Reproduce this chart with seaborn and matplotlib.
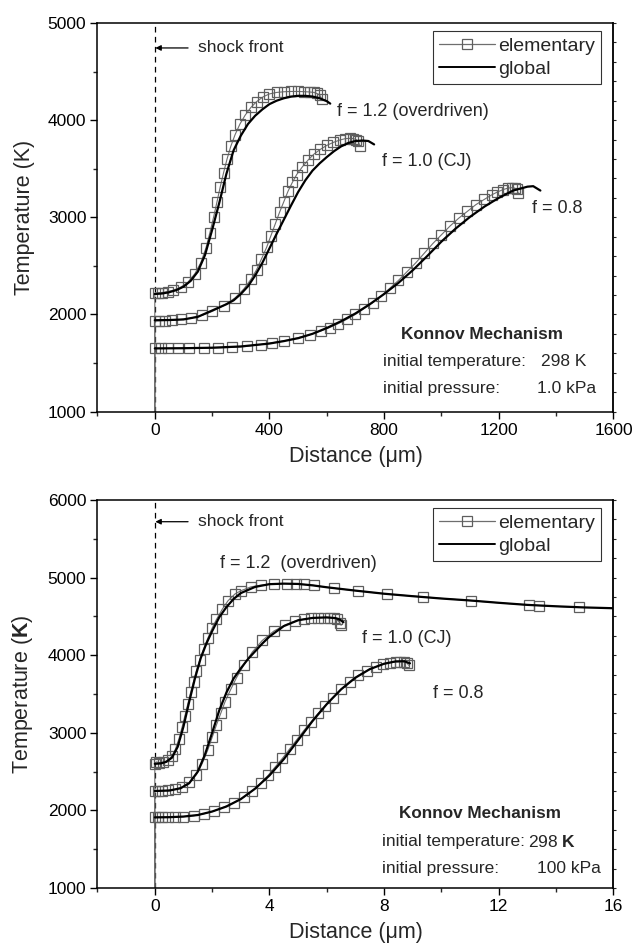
import matplotlib
matplotlib.use("Agg")
import matplotlib.pyplot as plt
from matplotlib.lines import Line2D
from matplotlib.ticker import MultipleLocator, NullFormatter
import seaborn as sns
import pandas as pd

sns.set_style("ticks")
plt.rcParams['font.family'] = ['Liberation Sans', 'DejaVu Sans']
plt.rcParams['mathtext.fontset'] = 'custom'
plt.rcParams['mathtext.rm'] = 'Liberation Sans'
plt.rcParams['mathtext.bf'] = 'Liberation Sans:bold'

# ---------------- Top panel (1.0 kPa), x in micrometres ----------------
top_g12_x = [0, 25, 50, 75, 100, 125, 150, 175, 200, 225, 250, 275, 300, 325, 350, 375, 400, 425, 450, 475, 500, 525, 550, 575, 600, 612]
top_g12_T = [2210, 2215, 2228, 2250, 2285, 2345, 2440, 2610, 2870, 3150, 3450, 3690, 3840, 3960, 4045, 4110, 4165, 4200, 4225, 4242, 4250, 4250, 4243, 4225, 4195, 4170]
top_e12_x = [0, 0, 10, 25, 45, 65, 90, 115, 140, 160, 178, 192, 205, 217, 228, 240, 252, 265, 280, 297, 315, 335, 355, 378, 400, 425, 450, 475, 500, 520, 540, 555, 565, 575, 582]
top_e12_T = [298, 2220, 2222, 2225, 2235, 2250, 2280, 2330, 2420, 2530, 2680, 2840, 3000, 3160, 3310, 3460, 3600, 3730, 3850, 3960, 4050, 4130, 4190, 4240, 4270, 4285, 4292, 4295, 4295, 4293, 4290, 4285, 4275, 4260, 4220]

top_g10_x = [0, 50, 100, 150, 200, 250, 275, 300, 325, 350, 375, 400, 425, 450, 475, 500, 525, 550, 575, 600, 625, 650, 675, 700, 725, 745, 765]
top_g10_T = [1940, 1942, 1948, 1975, 2040, 2105, 2145, 2210, 2290, 2400, 2530, 2680, 2830, 2975, 3120, 3260, 3380, 3480, 3555, 3620, 3680, 3730, 3765, 3785, 3790, 3785, 3750]
top_e10_x = [0, 0, 15, 35, 60, 90, 125, 165, 200, 240, 280, 310, 335, 355, 372, 390, 405, 420, 435, 450, 465, 480, 495, 515, 535, 555, 578, 600, 622, 645, 665, 680, 692, 702, 710, 716]
top_e10_T = [298, 1935, 1935, 1937, 1940, 1948, 1962, 1990, 2030, 2090, 2170, 2260, 2360, 2460, 2570, 2690, 2810, 2930, 3050, 3160, 3270, 3360, 3440, 3520, 3590, 3650, 3700, 3740, 3770, 3795, 3810, 3812, 3810, 3800, 3780, 3730]

top_g08_x = [0, 100, 200, 300, 400, 450, 500, 550, 600, 650, 700, 750, 800, 850, 900, 950, 1000, 1050, 1100, 1150, 1200, 1250, 1300, 1320, 1345]
top_g08_T = [1650, 1652, 1657, 1670, 1700, 1725, 1755, 1800, 1860, 1930, 2010, 2105, 2210, 2325, 2455, 2600, 2750, 2885, 3005, 3110, 3200, 3275, 3315, 3320, 3275]
top_e08_x = [0, 0, 20, 45, 80, 120, 170, 220, 270, 320, 370, 410, 450, 500, 540, 580, 610, 640, 670, 700, 730, 760, 790, 820, 850, 880, 910, 940, 970, 1000, 1030, 1060, 1090, 1120, 1150, 1175, 1195, 1215, 1232, 1245, 1255, 1262, 1268]
top_e08_T = [298, 1650, 1650, 1650, 1651, 1652, 1654, 1656, 1660, 1670, 1690, 1708, 1728, 1760, 1790, 1830, 1865, 1905, 1950, 2000, 2060, 2120, 2190, 2270, 2350, 2440, 2530, 2630, 2730, 2820, 2910, 2990, 3060, 3130, 3185, 3230, 3260, 3285, 3300, 3305, 3300, 3290, 3250]

# ---------------- Bottom panel (100 kPa), x in micrometres ----------------
bot_g12_x = [0, 0.2, 0.4, 0.6, 0.8, 1.0, 1.2, 1.4, 1.6, 1.8, 2.0, 2.25, 2.5, 2.75, 3.0, 3.5, 4.0, 4.5, 5.0, 5.5, 6.0, 7.0, 8.0, 9.0, 10.0, 11.0, 12.0, 13.0, 14.0, 15.0, 16.0]
bot_g12_T = [2600, 2605, 2625, 2680, 2820, 3080, 3400, 3700, 3960, 4150, 4310, 4490, 4620, 4725, 4800, 4880, 4915, 4922, 4918, 4900, 4875, 4832, 4792, 4760, 4730, 4705, 4675, 4648, 4630, 4615, 4605]
bot_e12_x = [0, 0, 0.05, 0.15, 0.3, 0.45, 0.6, 0.72, 0.84, 0.95, 1.05, 1.15, 1.25, 1.35, 1.45, 1.57, 1.7, 1.85, 2.0, 2.15, 2.35, 2.55, 2.8, 3.0, 3.35, 3.69, 4.15, 4.62, 4.91, 5.19, 5.54, 6.24, 7.1, 8.09, 9.36, 11.03, 13.05, 13.4, 14.79]
bot_e12_T = [298, 2600, 2625, 2615, 2620, 2645, 2700, 2790, 2920, 3070, 3220, 3370, 3520, 3660, 3800, 3940, 4080, 4220, 4350, 4460, 4590, 4700, 4790, 4830, 4880, 4902, 4923, 4922, 4918, 4912, 4900, 4862, 4828, 4788, 4751, 4702, 4645, 4640, 4615]

bot_g10_x = [0, 0.5, 0.9, 1.2, 1.5, 1.75, 2.0, 2.25, 2.5, 2.75, 3.0, 3.25, 3.5, 3.75, 4.0, 4.5, 5.0, 5.5, 6.0, 6.3, 6.45, 6.58]
bot_g10_T = [2250, 2255, 2285, 2350, 2500, 2720, 3000, 3290, 3520, 3700, 3830, 3950, 4050, 4150, 4240, 4375, 4450, 4480, 4487, 4478, 4460, 4425]
bot_e10_x = [0, 0, 0.1, 0.25, 0.45, 0.7, 0.95, 1.2, 1.45, 1.65, 1.85, 2.0, 2.15, 2.3, 2.45, 2.65, 2.85, 3.1, 3.4, 3.75, 4.15, 4.55, 4.9, 5.2, 5.45, 5.7, 5.9, 6.1, 6.25, 6.35, 6.45, 6.5]
bot_e10_T = [298, 2250, 2250, 2255, 2260, 2270, 2300, 2360, 2460, 2600, 2780, 2940, 3100, 3250, 3400, 3560, 3710, 3870, 4040, 4190, 4310, 4390, 4440, 4465, 4478, 4484, 4485, 4482, 4475, 4460, 4420, 4385]

bot_g08_x = [0, 0.5, 1.0, 1.5, 2.0, 2.5, 3.0, 3.5, 4.0, 4.5, 5.0, 5.5, 6.0, 6.5, 7.0, 7.5, 8.0, 8.4, 8.7, 8.9]
bot_g08_T = [1910, 1912, 1920, 1940, 1985, 2050, 2145, 2280, 2450, 2660, 2905, 3150, 3370, 3560, 3710, 3820, 3890, 3920, 3922, 3895]
bot_e08_x = [0, 0, 0.1, 0.25, 0.45, 0.7, 1.0, 1.35, 1.7, 2.05, 2.4, 2.75, 3.1, 3.4, 3.7, 3.95, 4.2, 4.45, 4.7, 4.95, 5.2, 5.45, 5.7, 5.95, 6.2, 6.5, 6.8, 7.1, 7.4, 7.7, 7.95, 8.2, 8.4, 8.55, 8.7, 8.8, 8.85]
bot_e08_T = [298, 1910, 1910, 1912, 1912, 1915, 1920, 1930, 1955, 1990, 2040, 2100, 2170, 2250, 2350, 2450, 2560, 2670, 2790, 2910, 3030, 3140, 3250, 3350, 3450, 3560, 3660, 3740, 3800, 3850, 3880, 3900, 3912, 3915, 3912, 3900, 3870]

top_xticks = [0, 400, 800, 1200, 1600]
top_yticks = [1000, 2000, 3000, 4000, 5000]
bot_xticks = [0, 4, 8, 12, 16]
bot_yticks = [1000, 2000, 3000, 4000, 5000, 6000]
legend_labels = ["elementary", "global"]

# ---------------- Figure ----------------
fig = plt.figure(figsize=(6.35, 9.5), dpi=100)
ax1 = fig.add_axes([0.1535, 0.5668, 0.8126, 0.4090])
ax2 = fig.add_axes([0.1535, 0.0653, 0.8126, 0.4084])

MS = 7.0
EDGE = '#5e5e5e'
EL_KW = dict(marker='s', markersize=MS, mfc='none', mec=EDGE, mew=0.9,
             color='#6e6e6e', lw=0.8, estimator=None, sort=False, zorder=2)
GL_KW = dict(color='black', lw=1.6, estimator=None, sort=False, zorder=3)


def draw(ax, ex, eT, gx, gT):
    sns.lineplot(data=pd.DataFrame({"x": ex, "T": eT}), x="x", y="T", ax=ax, **EL_KW)
    sns.lineplot(data=pd.DataFrame({"x": gx, "T": gT}), x="x", y="T", ax=ax, **GL_KW)


draw(ax1, top_e12_x, top_e12_T, top_g12_x, top_g12_T)
draw(ax1, top_e10_x, top_e10_T, top_g10_x, top_g10_T)
draw(ax1, top_e08_x, top_e08_T, top_g08_x, top_g08_T)
draw(ax2, bot_e12_x, bot_e12_T, bot_g12_x, bot_g12_T)
draw(ax2, bot_e10_x, bot_e10_T, bot_g10_x, bot_g10_T)
draw(ax2, bot_e08_x, bot_e08_T, bot_g08_x, bot_g08_T)


def style(ax, xlim, ylim, xt, yt, xminor, rminor, ylabel):
    ax.set_xlim(*xlim)
    ax.set_ylim(*ylim)
    ax.set_xticks(xt)
    ax.set_yticks(yt)
    ax.xaxis.set_minor_locator(MultipleLocator(xminor))
    ax.yaxis.set_minor_locator(MultipleLocator(500))
    ax.tick_params(which='major', direction='out', length=5, width=1.0,
                   labelsize=12.5, pad=3, colors='black')
    ax.tick_params(which='minor', direction='out', length=3, width=1.0)
    for s in ax.spines.values():
        s.set_visible(True)
        s.set_linewidth(1.1)
        s.set_color('black')
    ax.axvline(0, color='black', lw=0.9, ls=(0, (4.5, 3.5)), zorder=1)
    ax.set_xlabel("Distance (\u03bcm)", fontsize=15.5, labelpad=6)
    ax.set_ylabel(ylabel, fontsize=15.5, labelpad=9)
    sec = ax.secondary_yaxis('right')
    sec.yaxis.set_major_locator(MultipleLocator(rminor))
    sec.yaxis.set_major_formatter(NullFormatter())
    sec.tick_params(direction='out', length=2, width=0.8)
    sec.spines['right'].set_linewidth(1.1)
    handles = [Line2D([], [], marker='s', markersize=MS, mfc='none', mec=EDGE,
                      mew=0.9, color='#6e6e6e', lw=0.9),
               Line2D([], [], color='black', lw=1.4)]
    leg = ax.legend(handles, legend_labels, loc='upper right',
                    bbox_to_anchor=(0.975, 0.979), borderaxespad=0,
                    fontsize=14, frameon=True, fancybox=False, edgecolor='black',
                    handlelength=2.9, handletextpad=0.15, labelspacing=0.3,
                    borderpad=0.3)
    leg.get_frame().set_linewidth(0.8)


style(ax1, (-200, 1600), (1000, 5000), top_xticks, top_yticks, 200, 200,
      "Temperature (K)")
style(ax2, (-2, 16), (1000, 6000), bot_xticks, bot_yticks, 2, 250,
      "Temperature ($\\mathbf{K}$)")

# ---------------- Annotations ----------------
arrow = dict(arrowstyle='-|>', color='black', lw=0.9, mutation_scale=8, shrinkA=0, shrinkB=0)

ax1.annotate('', xy=(2, 4743), xytext=(116, 4743), arrowprops=arrow)
ax1.text(150, 4743, "shock front", fontsize=12.5, va='center', ha='left')
ax1.text(634, 4084, "f = 1.2 (overdriven)", fontsize=13, va='center', ha='left')
ax1.text(791, 3572, "f = 1.0 (CJ)", fontsize=13, va='center', ha='left')
ax1.text(1316, 3092, "f = 0.8", fontsize=13, va='center', ha='left')
ax1.text(1143, 1798, "Konnov Mechanism", fontsize=12.3, fontweight='bold', va='center', ha='center')
ax1.text(797, 1513, "initial temperature:", fontsize=12.5, va='center', ha='left')
ax1.text(1346, 1513, "298 K", fontsize=12.5, va='center', ha='left')
ax1.text(797, 1239, "initial pressure:", fontsize=12.5, va='center', ha='left')
ax1.text(1332, 1239, "1.0 kPa", fontsize=12.5, va='center', ha='left')

ax2.annotate('', xy=(0.02, 5720), xytext=(1.16, 5720), arrowprops=arrow)
ax2.text(1.51, 5720, "shock front", fontsize=12.5, va='center', ha='left')
ax2.text(2.27, 5184, "f = 1.2  (overdriven)", fontsize=13, va='center', ha='left')
ax2.text(7.22, 4218, "f = 1.0 (CJ)", fontsize=13, va='center', ha='left')
ax2.text(9.71, 3509, "f = 0.8", fontsize=13, va='center', ha='left')
ax2.text(11.33, 1954, "Konnov Mechanism", fontsize=12.3, fontweight='bold', va='center', ha='center')
ax2.text(7.91, 1597, "initial temperature:", fontsize=12.5, va='center', ha='left')
ax2.text(13.01, 1597, "298 $\\mathbf{K}$", fontsize=12.5, va='center', ha='left')
ax2.text(7.91, 1254, "initial pressure:", fontsize=12.5, va='center', ha='left')
ax2.text(13.32, 1254, "100 kPa", fontsize=12.5, va='center', ha='left')

fig.savefig("out.png", dpi=100)
